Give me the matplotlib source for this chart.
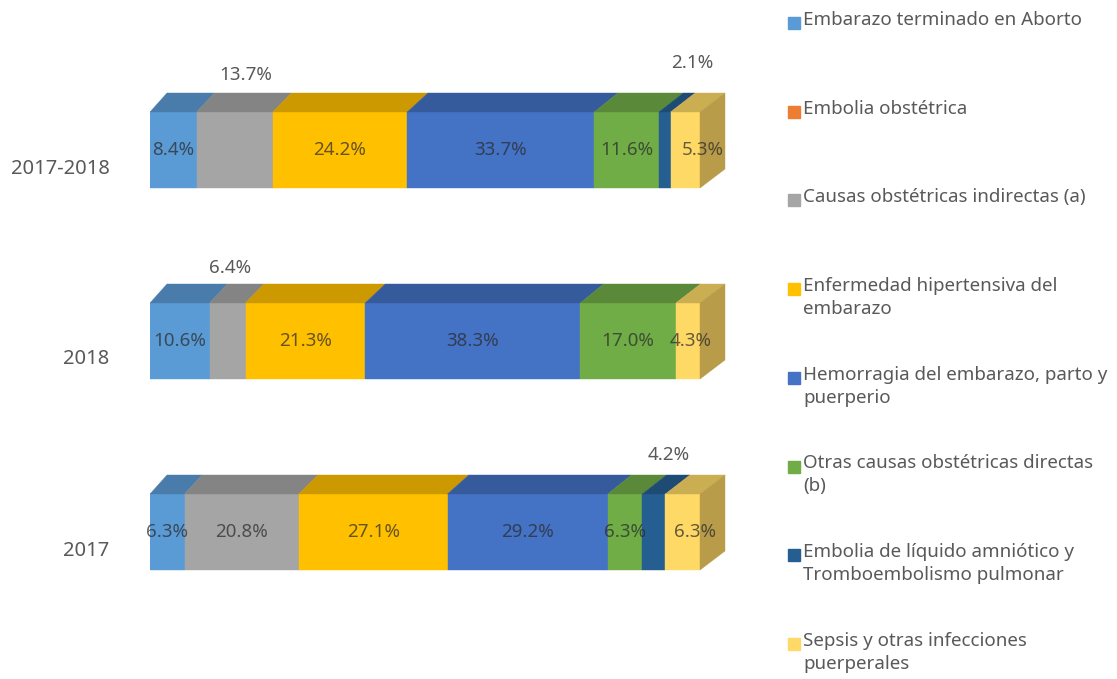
import matplotlib.pyplot as plt
from matplotlib.patches import Polygon
from matplotlib.colors import to_rgb

plt.rcParams['font.family'] = ['Noto Sans', 'DejaVu Sans']

years = ['2017-2018', '2018', '2017']
causes = [
    'Embarazo terminado en Aborto',
    'Embolia obstétrica',
    'Causas obstétricas indirectas (a)',
    'Enfermedad hipertensiva del\nembarazo',
    'Hemorragia del embarazo, parto y\npuerperio',
    'Otras causas obstétricas directas\n(b)',
    'Embolia de líquido amniótico y\nTromboembolismo pulmonar',
    'Sepsis y otras infecciones\npuerperales',
]
aborto = [8.4, 10.6, 6.3]
embolia_obst = [0.0, 0.0, 0.0]
indirectas = [13.7, 6.4, 20.8]
hipertensiva = [24.2, 21.3, 27.1]
hemorragia = [33.7, 38.3, 29.2]
otras = [11.6, 17.0, 6.3]
liquido = [2.1, 0.0, 4.2]
sepsis = [5.3, 4.3, 6.3]
series = [aborto, embolia_obst, indirectas, hipertensiva,
          hemorragia, otras, liquido, sepsis]

colors = ['#5B9BD5', '#ED7D31', '#A5A5A5', '#FFC000',
          '#4472C4', '#70AD47', '#255E91', '#FFD966']

# labels drawn above the bar, offset in pixels
above = {(2, 0): (11, 18), (2, 1): (3, 16), (6, 0): (28, 30), (6, 2): (15, 20)}
# small sideways nudges for the last segment's labels (pixels)
nudge = {(7, 0): 18, (7, 1): 3, (7, 2): 12}

def shade(c, f):
    r, g, b = to_rgb(c)
    return (r * f, g * f, b * f)

W, H = 1117, 679
px_x = 5.5      # pixels per percent
px_y = 191.0    # pixels per category
fig = plt.figure(figsize=(W / 100, H / 100), dpi=100)
ax = fig.add_axes([150 / W, 0, (760 - 150) / W, 1])
ax.set_xlim(0, 610 / px_x)
ax.set_ylim(-(679 - 532) / px_y, 2 + 150 / px_y)

ypos = [2, 1, 0]
h = 76 / px_y
ddy = 19 / px_y

def ddx(x):
    # depth grows a little to the right (perspective)
    return (17 + 8 * x / 100) / px_x

for j, yr in enumerate(years):
    total = sum(s[j] for s in series)
    left = 0.0
    y = ypos[j]
    yt = y + h / 2
    yb = y - h / 2
    for i, s in enumerate(series):
        v = s[j]
        if v == 0:
            continue
        w = v / total * 100
        ax.barh(y, w, left=left, height=h, color=colors[i],
                edgecolor=colors[i], linewidth=0.3)
        top = Polygon([(left, yt), (left + w, yt),
                       (left + w + ddx(left + w), yt + ddy),
                       (left + ddx(left), yt + ddy)], closed=True,
                      facecolor=shade(colors[i], 0.8),
                      edgecolor=shade(colors[i], 0.8), linewidth=0.3)
        ax.add_patch(top)
        lab = f'{v:.1f}%'
        if (i, j) in above:
            ox, oy = above[(i, j)]
            ax.annotate(lab, (left + w / 2, yt + ddy), xytext=(ox * 0.72, oy * 0.72),
                        textcoords='offset points', ha='center', va='center',
                        fontsize=13.5, color='#595959')
        else:
            xc = left + w / 2 + nudge.get((i, j), 0) / px_x
            ax.text(xc, y, lab, ha='center', va='center', fontsize=13.5,
                    color='#2a2a2a', alpha=0.72)
        left += w
    side = Polygon([(left, yb), (left, yt), (left + ddx(left), yt + ddy),
                    (left + ddx(left), yb + ddy)], closed=True,
                   facecolor=shade(colors[-1], 0.72),
                   edgecolor=shade(colors[-1], 0.72), linewidth=0.3)
    ax.add_patch(side)

# category names sit a bit below the bar centres
ax.set_yticks([p - 16 / px_y for p in ypos])
ax.set_yticklabels(years, fontsize=14.5, color='#595959')
ax.tick_params(axis='y', length=0, pad=29)
ax.set_xticks([])
for sp in ax.spines.values():
    sp.set_visible(False)
ax.patch.set_alpha(0)

# legend down the right side
for i, name in enumerate(causes):
    yc = 23 + i * 88.7
    fig.patches.append(plt.Rectangle((788 / W, 1 - (yc + 6) / H), 12 / W, 12 / H,
                                     transform=fig.transFigure, color=colors[i]))
    fig.text(803 / W, 1 - (yc - 12) / H, name, ha='left', va='top', fontsize=13.5,
             color='#595959', linespacing=1.35)

fig.savefig('out.png', dpi=100)
